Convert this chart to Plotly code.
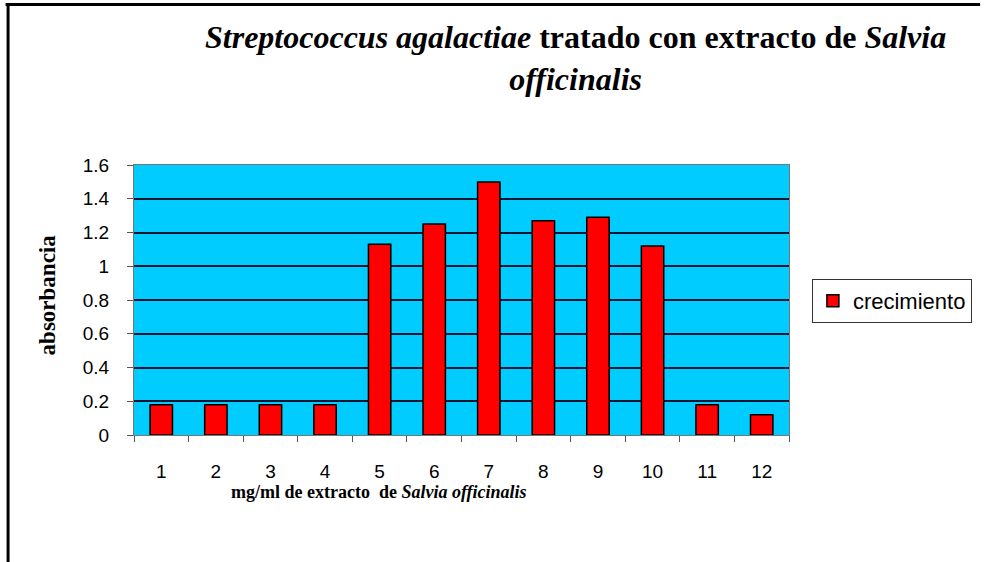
import plotly.graph_objects as go

categories = ["1", "2", "3", "4", "5", "6", "7", "8", "9", "10", "11", "12"]
crecimiento = [0.18, 0.18, 0.18, 0.18, 1.13, 1.25, 1.50, 1.27, 1.29, 1.12, 0.18, 0.12]
y_ticks = [0, 0.2, 0.4, 0.6, 0.8, 1.0, 1.2, 1.4, 1.6]
y_ticklabels = ["0", "0.2", "0.4", "0.6", "0.8", "1", "1.2", "1.4", "1.6"]

W, H = 984, 562
L, R, T, B = 134, 192, 165, 127
pw, ph = W - L - R, H - T - B


def px_x(px):
    return (px - L) / pw


def px_y(py):
    return (H - B - py) / ph


fig = go.Figure()
fig.add_trace(go.Bar(
    x=categories, y=crecimiento, name="crecimiento",
    marker=dict(color="#FF0000", line=dict(color="black", width=1.5)),
))

fig.update_layout(
    width=W, height=H,
    margin=dict(l=L, r=R, t=T, b=B),
    paper_bgcolor="white",
    plot_bgcolor="#00CCFF",
    bargap=0.59,
    showlegend=True,
    legend=dict(
        x=px_x(815), y=px_y(279), xanchor="left", yanchor="top",
        bordercolor="#333333", borderwidth=1,
        font=dict(family="Liberation Sans, Arial", size=22, color="black"),
        bgcolor="white",
    ),
    font=dict(family="Liberation Sans, Arial", color="black"),
)

fig.update_xaxes(
    type="category", tickson="boundaries", ticks="outside", ticklen=6,
    tickcolor="#555555", showline=True, linecolor="#777777", linewidth=1,
    mirror=True, showgrid=False,
    tickfont=dict(family="Liberation Sans, Arial", size=19, color="black"),
    ticklabelstandoff=19,
)
fig.update_yaxes(
    range=[0, 1.6], tickvals=y_ticks, ticktext=y_ticklabels,
    ticks="outside", ticklen=6, tickcolor="#555555",
    showline=True, linecolor="#777777", linewidth=1, mirror=True,
    showgrid=True, gridcolor="#0b1530", gridwidth=1.5,
    tickfont=dict(family="Liberation Sans, Arial", size=19, color="black"),
    ticklabelstandoff=14, zeroline=False,
)

# Title
fig.add_annotation(
    xref="paper", yref="paper", x=px_x(578), y=px_y(58),
    xanchor="center", yanchor="middle", showarrow=False,
    text="<b><i>Streptococcus agalactiae</i> tratado con extracto de <i>Salvia</i><br><i>officinalis</i></b>",
    font=dict(family="Liberation Serif, Times New Roman", size=32, color="black"),
    align="center",
)
# Y title
fig.add_annotation(
    xref="paper", yref="paper", x=px_x(47), y=px_y(295),
    xanchor="center", yanchor="middle", showarrow=False, textangle=-90,
    text="<b>absorbancia</b>",
    font=dict(family="Liberation Serif, Times New Roman", size=23, color="black"),
)
# X title
fig.add_annotation(
    xref="paper", yref="paper", x=px_x(380), y=px_y(492),
    xanchor="center", yanchor="middle", showarrow=False,
    text="<b>mg/ml de extracto  de <i>Salvia officinalis</i></b>",
    font=dict(family="Liberation Serif, Times New Roman", size=18, color="black"),
)

# Outer frame (top and left edges)
fig.add_shape(type="line", xref="paper", yref="paper",
              x0=px_x(5), x1=px_x(984), y0=px_y(4.5), y1=px_y(4.5),
              line=dict(color="black", width=3))
fig.add_shape(type="line", xref="paper", yref="paper",
              x0=px_x(7.5), x1=px_x(7.5), y0=px_y(3), y1=px_y(562),
              line=dict(color="black", width=3))

fig.write_html(
    "out.html",
    config={"displayModeBar": False},
    post_script="document.body.style.margin='0';document.body.style.overflow='hidden';",
)
